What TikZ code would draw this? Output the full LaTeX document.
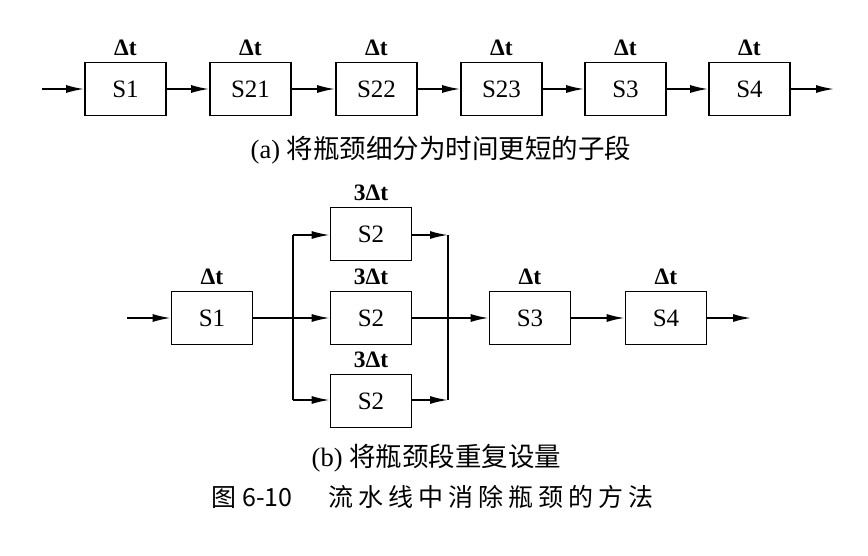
\documentclass[tikz,border=0pt]{standalone}
\usepackage{fontspec}
\setmainfont{Liberation Serif}
\newfontfamily\cjk{Noto Sans CJK SC}
\usetikzlibrary{arrows.meta}
\newcommand{\cgap}{\kern5pt}
\begin{document}
\begin{tikzpicture}[x=1pt,y=-1pt,
  stage/.style={draw,line width=1.8pt,minimum width=81pt,minimum height=53pt,inner sep=0pt,font=\fontsize{25}{25}\selectfont},
  dt/.style={font=\fontsize{23.5}{23.5}\selectfont\bfseries,inner sep=0pt},
  flow/.style={line width=1.6pt,-{Latex[length=18pt,width=8pt]}},
  wire/.style={line width=1.6pt},
  captext/.style={font=\fontsize{26.5}{26.5}\selectfont,inner sep=0pt}]
\useasboundingbox (0,0) rectangle (868,556);
% ---------- (a) ----------
\coordinate (ain) at (42,89);
\coordinate (aout) at (834,89);
\node[stage] (a1) at (125.5,89) {S1};
\node[stage] (a2) at (250.5,89) {S21};
\node[stage] (a3) at (376.5,89) {S22};
\node[stage] (a4) at (501.5,89) {S23};
\node[stage] (a5) at (625.5,89) {S3};
\node[stage] (a6) at (749.5,89) {S4};
\foreach \i in {1,...,6}{\node[dt] (ta\i) at ([yshift=14pt]a\i.north) {Δt};}
\draw[flow] (ain) -- (a1);
\draw[flow] (a1) -- (a2);
\draw[flow] (a2) -- (a3);
\draw[flow] (a3) -- (a4);
\draw[flow] (a4) -- (a5);
\draw[flow] (a5) -- (a6);
\draw[flow] (a6) -- (aout);
\node[captext] (capa) at (441,150) {(a) {\cjk 将瓶颈细分为时间更短的子段}};
% ---------- (b) ----------
\coordinate (bin) at (127,318);
\coordinate (bout) at (751,318);
\node[stage] (b1) at (212,318) {S1};
\node[stage] (s2a) at (371,234) {S2};
\node[stage] (s2b) at (371,318) {S2};
\node[stage] (s2c) at (371,401) {S2};
\node[stage] (b3) at (530,318) {S3};
\node[stage] (b4) at (666,318) {S4};
\node[dt] (tb1) at ([yshift=14pt]b1.north) {Δt};
\node[dt] (t2a) at ([yshift=14pt]s2a.north) {3Δt};
\node[dt] (t2b) at ([yshift=14pt]s2b.north) {3Δt};
\node[dt] (t2c) at ([yshift=14pt]s2c.north) {3Δt};
\node[dt] (tb3) at ([yshift=14pt]b3.north) {Δt};
\node[dt] (tb4) at ([yshift=14pt]b4.north) {Δt};
\coordinate (spl) at (293,318);
\coordinate (splt) at (293,235);
\coordinate (splb) at (293,400);
\coordinate (mrg) at (448,318);
\coordinate (mrgt) at (448,235);
\coordinate (mrgb) at (448,400);
\draw[flow] (bin) -- (b1);
\draw[wire] (b1) -- (spl);
\draw[wire] (splt) -- (splb);
\draw[flow] (splt) -- (s2a.west |- splt);
\draw[flow] (spl) -- (s2b.west |- spl);
\draw[flow] (splb) -- (s2c.west |- splb);
\draw[flow] (s2a.east |- mrgt) -- (mrgt);
\draw[flow] (s2c.east |- mrgb) -- (mrgb);
\draw[wire] (mrgt) -- (mrgb);
\draw[flow] (s2b.east |- mrg) -- (b3.west |- mrg);
\draw[flow] (b3) -- (b4);
\draw[flow] (b4) -- (bout);
\node[captext] (capb) at (436.5,458) {(b) {\cjk 将瓶颈段重复设量}};
\node[font=\fontsize{25}{25}\selectfont\cjk,inner sep=0pt] (fig) at (432.5,497) {图 6-10\kern36pt 流\cgap 水\cgap 线\cgap 中\cgap 消\cgap 除\cgap 瓶\cgap 颈\cgap 的\cgap 方\cgap 法};
\end{tikzpicture}
\end{document}
